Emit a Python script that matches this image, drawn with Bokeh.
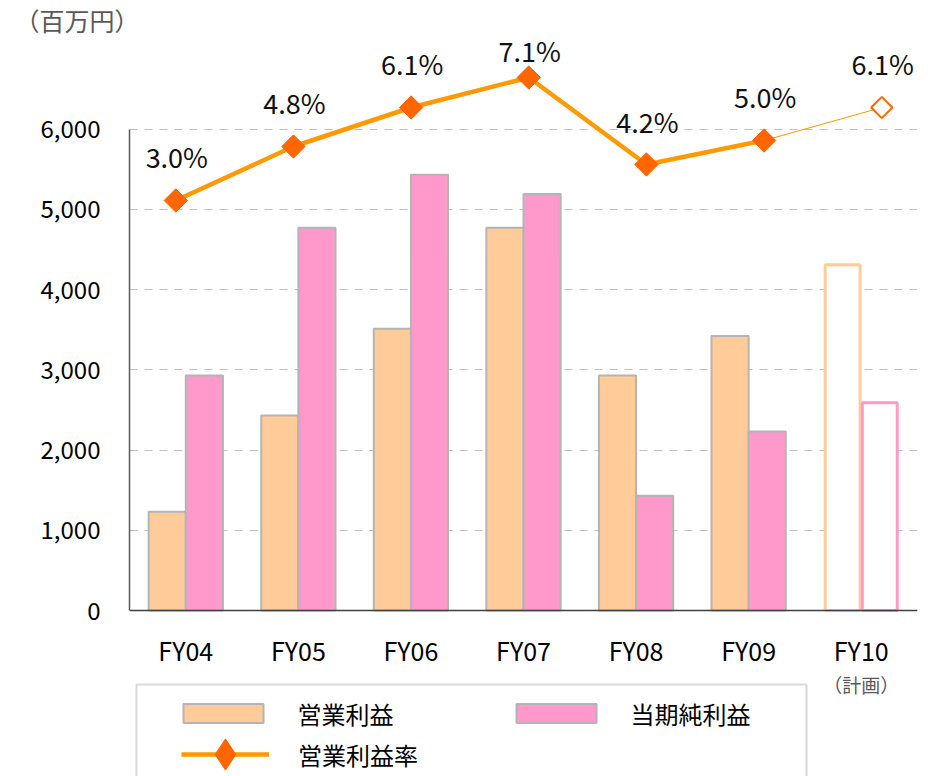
import math
from bokeh.plotting import figure
from bokeh.models import (ColumnDataSource, FactorRange, Range1d, FixedTicker,
                          NumeralTickFormatter, Legend, LegendItem,
                          BoxAnnotation, Span)
from bokeh.transform import dodge
from bokeh.core.properties import value
from bokeh.embed import file_html
from bokeh.resources import INLINE

# ---------------- data ----------------
categories = ["FY04", "FY05", "FY06", "FY07", "FY08", "FY09", "FY10"]
plan_note = ["", "", "", "", "", "", "（計画）"]
operating_profit = [1230, 2430, 3510, 4770, 2930, 3420, 4310]
net_profit = [2930, 4770, 5430, 5190, 1430, 2230, 2590]
operating_margin = [3.0, 4.8, 6.1, 7.1, 4.2, 5.0, 6.1]
y_ticks = [0, 1000, 2000, 3000, 4000, 5000, 6000]
unit_label = "（百万円）"
legend_labels = ["営業利益", "当期純利益", "営業利益率"]
n_actual = 6  # FY04..FY09 actual, FY10 plan

# ---------------- styles ----------------
FONT = "Noto Sans CJK JP"
ORANGE_BAR = "#FFCC99"
PINK_BAR = "#FF99CC"
LINE_COL = "#FF9900"
MARK_COL = "#FF6600"
label_dy = [-44, -44, -44, -27, -43, -44, -44]

p = figure(width=928, height=776,
           x_range=FactorRange(*categories, range_padding=0),
           y_range=Range1d(-2068, 7153),
           x_axis_location=None,
           output_backend="svg", toolbar_location=None,
           min_border_left=129, min_border_right=11,
           min_border_top=36, min_border_bottom=0)
p.outline_line_color = None
p.background_fill_color = "white"
p.border_fill_color = "white"

# unit caption
p.title.text = unit_label
p.title.align = "left"
p.title.offset = -115
p.title.standoff = -3
p.title.text_font = FONT
p.title.text_font_size = "25px"
p.title.text_font_style = "normal"
p.title.text_color = "#595959"

# the rate series sits on its own (slightly wider-spaced) category scale
mx = FactorRange(*categories, range_padding=-0.1515, range_padding_units="absolute")
p.extra_x_ranges = {"mx": mx}
p.extra_y_ranges = {"my": Range1d(-16.2, 8.467)}

# grid
p.xgrid.visible = False
p.ygrid.ticker = FixedTicker(ticks=y_ticks)
p.ygrid.grid_line_color = "#C0C0C0"
p.ygrid.grid_line_dash = "8 7"
p.ygrid.grid_line_width = 1

# y axis
p.yaxis.ticker = FixedTicker(ticks=y_ticks)
p.yaxis.formatter = NumeralTickFormatter(format="0,0")
p.yaxis.bounds = (y_ticks[0], y_ticks[-1])
p.yaxis.major_tick_line_color = None
p.yaxis.minor_tick_line_color = None
p.yaxis.major_label_standoff = 23
p.yaxis.major_label_text_font = FONT
p.yaxis.major_label_text_font_size = "24px"
p.yaxis.major_label_text_color = "#000000"
p.yaxis.axis_line_color = "#595959"
p.yaxis.axis_line_width = 1.5

# category axis line at zero and its labels
p.add_layout(Span(location=y_ticks[0], dimension="width", line_color="#404040", line_width=1.5))
cat_src = ColumnDataSource(dict(cat=categories, base=[y_ticks[0]] * len(categories),
                                note=plan_note))
p.text("cat", "base", text="cat", source=cat_src, y_offset=39,
       text_align="center", text_baseline="middle",
       text_font=value(FONT), text_font_size="25px", text_color="#000000")
p.text("cat", "base", text="note", source=cat_src, y_offset=74,
       text_align="center", text_baseline="middle",
       text_font=value(FONT), text_font_size="19px", text_color="#595959")

# bars
actual = ColumnDataSource(dict(cat=categories[:n_actual],
                               op=operating_profit[:n_actual],
                               net=net_profit[:n_actual]))
plan = ColumnDataSource(dict(cat=categories[n_actual:],
                             op=operating_profit[n_actual:],
                             net=net_profit[n_actual:]))
bw = 0.33
bar_op = p.vbar(x=dodge("cat", -bw / 2, range=p.x_range), top="op", width=bw, source=actual,
                fill_color=ORANGE_BAR, line_color="#B4B4B4", line_width=2)
bar_net = p.vbar(x=dodge("cat", bw / 2, range=p.x_range), top="net", width=bw, source=actual,
                 fill_color=PINK_BAR, line_color="#B4B4B4", line_width=2)
p.vbar(x=dodge("cat", -bw / 2, range=p.x_range), top="op", width=bw - 0.02, source=plan,
       fill_color="white", line_color=ORANGE_BAR, line_width=3)
p.vbar(x=dodge("cat", bw / 2, range=p.x_range), top="net", width=bw - 0.02, source=plan,
       fill_color="white", line_color=PINK_BAR, line_width=3)

# margin line
line_act = ColumnDataSource(dict(x=categories[:n_actual], y=operating_margin[:n_actual]))
line_plan = ColumnDataSource(dict(x=categories[n_actual - 1:], y=operating_margin[n_actual - 1:]))
pt_plan = ColumnDataSource(dict(x=categories[n_actual:], y=operating_margin[n_actual:]))
sx = dodge("x", 0.045, range=mx)

line_r = p.line(sx, "y", source=line_act, line_color=LINE_COL, line_width=4.5,
                x_range_name="mx", y_range_name="my")
p.line(sx, "y", source=line_plan, line_color=LINE_COL, line_width=1,
       x_range_name="mx", y_range_name="my")
# diamond used only for the legend swatch (tiny, hidden under the first marker)
leg_mark = p.scatter(sx, "y", source=ColumnDataSource(dict(x=categories[:1], y=operating_margin[:1])),
                     marker="diamond", size=1, fill_color=MARK_COL, line_color=MARK_COL,
                     x_range_name="mx", y_range_name="my")
mark_r = p.scatter(sx, "y", source=line_act, marker="square", angle=math.pi / 4, size=16.5,
                   fill_color=MARK_COL, line_color=MARK_COL, line_width=1,
                   x_range_name="mx", y_range_name="my")
p.scatter(sx, "y", source=pt_plan, marker="square", angle=math.pi / 4, size=15,
          fill_color="white", line_color=MARK_COL, line_width=2,
          x_range_name="mx", y_range_name="my")

lab_src = ColumnDataSource(dict(x=categories, y=operating_margin,
                                t=[f"{v:.1f}%" for v in operating_margin],
                                dy=label_dy))
p.text(sx, "y", text="t", source=lab_src, x_range_name="mx", y_range_name="my",
       x_offset=1, y_offset="dy", text_align="center", text_baseline="middle",
       text_font=value(FONT), text_font_size="27px", text_color="#111111")

# legend frame
p.add_layout(BoxAnnotation(left=7, right=677, top=92, bottom=-10,
                           left_units="screen", right_units="screen",
                           top_units="screen", bottom_units="screen",
                           fill_alpha=0, line_color="#808080", line_width=2))

legA = Legend(items=[LegendItem(label=legend_labels[0], renderers=[bar_op]),
                     LegendItem(label=legend_labels[1], renderers=[bar_net])],
              orientation="horizontal", location=(43.5, 45.5),
              glyph_width=100, glyph_height=24, label_standoff=25, spacing=112,
              padding=0, margin=0, border_line_color=None, background_fill_alpha=0,
              label_text_font=FONT, label_text_font_size="24px",
              label_text_color="#000000")
legB = Legend(items=[LegendItem(label=legend_labels[2], renderers=[line_r, leg_mark])],
              orientation="horizontal", location=(52, -17),
              glyph_width=88, glyph_height=78, label_standoff=29,
              padding=0, margin=0, border_line_color=None, background_fill_alpha=0,
              label_text_font=FONT, label_text_font_size="24px",
              label_text_color="#000000")
p.add_layout(legA)
p.add_layout(legB)

open("out.html", "w").write(file_html(p, INLINE))
